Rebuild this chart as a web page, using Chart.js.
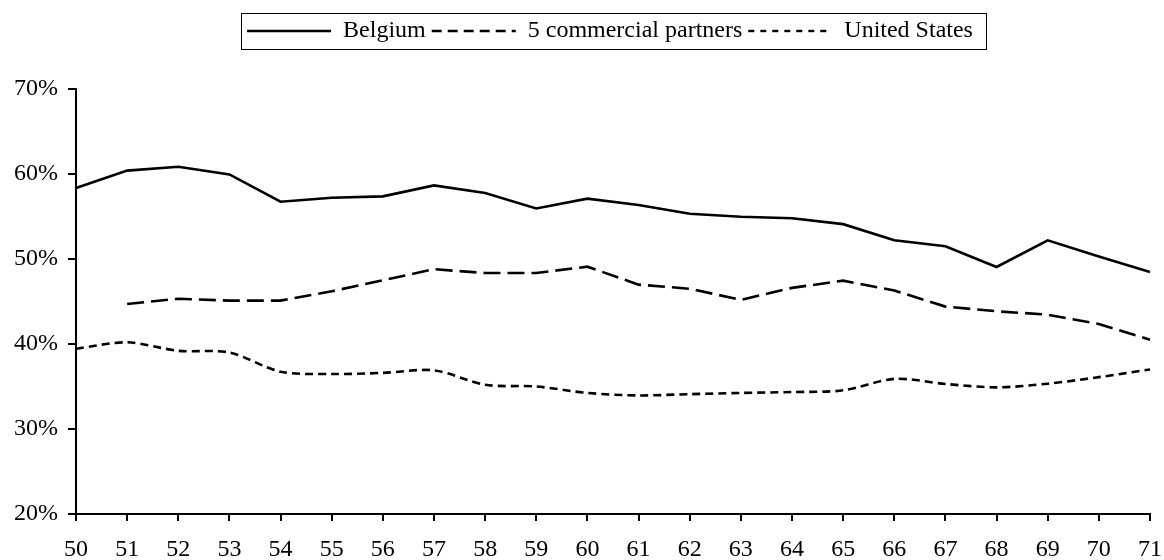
<!DOCTYPE html>
<html>
<head>
<meta charset="utf-8">
<script src="https://cdn.jsdelivr.net/npm/chart.js@4/dist/chart.umd.min.js"></script>
<style>
  html, body { margin: 0; padding: 0; background: #fff; }
  #wrap { width: 1164px; height: 560px; }
</style>
</head>
<body>
<div id="wrap"><canvas id="c" width="1164" height="560"></canvas></div>
<script>
const years = ['50','51','52','53','54','55','56','57','58','59','60','61','62','63','64','65','66','67','68','69','70','71'];
const belgium = [58.35, 60.4, 60.86, 59.95, 56.74, 57.2, 57.37, 58.66, 57.76, 55.95, 57.1, 56.35, 55.33, 54.97, 54.8, 54.1, 52.2, 51.5, 49.06, 52.2, 50.3, 48.47];
const partners = [null, 44.7, 45.33, 45.1, 45.1, 46.2, 47.5, 48.8, 48.35, 48.35, 49.1, 46.98, 46.5, 45.2, 46.6, 47.45, 46.3, 44.4, 43.85, 43.45, 42.35, 40.5];
const unitedStates = [39.45, 40.2, 39.2, 39.0, 36.74, 36.47, 36.6, 36.9, 35.2, 35.0, 34.24, 33.95, 34.1, 34.24, 34.35, 34.55, 35.9, 35.3, 34.9, 35.33, 36.1, 37.0];
const seriesNames = ['Belgium', '5 commercial partners', 'United States'];
const yTicks = [20, 30, 40, 50, 60, 70];
const legendDashes = [[], [10, 6], [6, 6]];

const FONT = "'Liberation Serif', 'Times New Roman', serif";
const LEG_PAD = 6;

const legendTweak = {
  id: 'legendTweak',
  afterLayout(chart) {
    const lg = chart.legend;
    lg.left += 35; lg.right += 35;
    lg.top -= 36; lg.bottom -= 36;
  },
  afterDraw(chart) {
    const lg = chart.legend;
    const ctx = chart.ctx;
    const lw = lg.lineWidths[0];
    const startX = (lg.left + LEG_PAD + lg.right - lw) / 2;
    const endX = startX + lw - LEG_PAD;
    const cy = lg.top + LEG_PAD + 12;
    ctx.save();
    ctx.strokeStyle = '#000';
    ctx.lineWidth = 1;
    ctx.setLineDash([]);
    ctx.strokeRect(Math.round(startX - 6) + 0.5, Math.round(cy - 18) + 0.5, Math.round(endX - startX + 19), 36);
    ctx.restore();
  }
};

new Chart(document.getElementById('c'), {
  type: 'line',
  data: {
    labels: years,
    datasets: [
      { label: seriesNames[0], data: belgium, borderColor: '#000', borderWidth: 2.6, pointRadius: 0, tension: 0, fill: false },
      { label: seriesNames[1], data: partners, borderColor: '#000', borderWidth: 2.6, borderDash: [17, 7], pointRadius: 0, tension: 0, fill: false },
      { label: seriesNames[2], data: unitedStates, borderColor: '#000', borderWidth: 2.6, borderDash: [8, 5], pointRadius: 0, tension: 0.3, fill: false }
    ]
  },
  options: {
    responsive: false,
    animation: false,
    devicePixelRatio: 1,
    layout: { padding: { top: 49, right: 14, bottom: 0, left: 0 } },
    plugins: {
      legend: {
        position: 'top',
        labels: {
          color: '#000',
          font: { family: FONT, size: 24 },
          usePointStyle: true,
          pointStyle: 'line',
          pointStyleWidth: 84,
          boxWidth: 84,
          boxHeight: 24,
          padding: LEG_PAD,
          generateLabels(chart) {
            const items = Chart.defaults.plugins.legend.labels.generateLabels(chart);
            items.forEach((it, i) => {
              it.lineDash = legendDashes[i] || [];
              it.lineWidth = 2.4;
              it.strokeStyle = '#000';
              it.pointStyle = 'line';
            });
            return items;
          }
        }
      },
      tooltip: { enabled: false }
    },
    scales: {
      x: {
        type: 'category',
        offset: false,
        grid: { drawOnChartArea: false, drawTicks: true, tickLength: 7, color: '#000', lineWidth: 2 },
        border: { display: true, color: '#000', width: 2 },
        ticks: { color: '#000', font: { family: FONT, size: 24 }, autoSkip: false, maxRotation: 0, padding: 14 },
        afterFit(scale) { scale.height = 46; scale.paddingRight = 0; scale.paddingLeft = 0; }
      },
      y: {
        min: 20, max: 70,
        afterBuildTicks(scale) { scale.ticks = yTicks.map(v => ({ value: v })); },
        grid: { drawOnChartArea: false, drawTicks: true, tickLength: 8, color: '#000', lineWidth: 2 },
        border: { display: true, color: '#000', width: 2 },
        ticks: { color: '#000', font: { family: FONT, size: 24 }, padding: 10, callback: v => v + '%' },
        afterFit(scale) { scale.width = 76; }
      }
    }
  },
  plugins: [legendTweak]
});
</script>
</body>
</html>
